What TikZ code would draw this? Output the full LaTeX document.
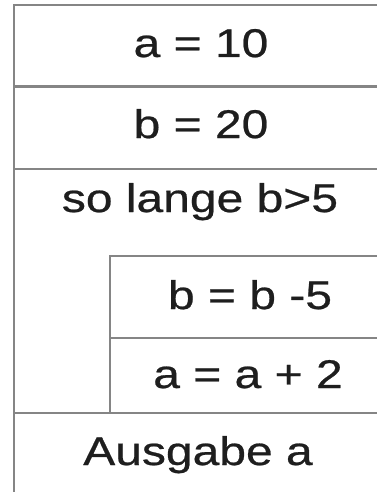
\documentclass[tikz,border=0pt]{standalone}
\usepackage{fontspec}
\newfontfamily\nsfont[FakeStretch=1.2,FakeBold=0.6]{Liberation Sans}
\usepackage{tikz}
\usepackage{xcolor}
\definecolor{Frame}{HTML}{858585}
\definecolor{Ink}{HTML}{1E1E1E}

\begin{document}
\begin{tikzpicture}[x=1pt,y=-1pt,line width=2.2pt,
    cell/.style={anchor=base,inner sep=0pt,text=Ink,
      font=\nsfont\fontsize{40}{48}\selectfont}]
    \useasboundingbox (0,0) rectangle (377,492);
    \clip (0,0) rectangle (377,492);
    % outer blocks
    \draw[Frame] (14,500) -- (14,5) -- (395,5);
    \draw[Frame] (14,86.5) -- (395,86.5);
    \draw[Frame] (14,169) -- (395,169);
    % loop body
    \draw[Frame] (110,413) -- (110,256) -- (395,256);
    \draw[Frame] (110,338) -- (395,338);
    \draw[Frame] (14,413) -- (395,413);
    % statements
    \node[cell] (setA) at (201,57) {a = 10};
    \node[cell] (setB) at (201,138) {b = 20};
    \node[cell] (loop) at (200,212) {so lange b>5};
    \node[cell] (decB) at (250,309) {b = b -5};
    \node[cell] (incA) at (248,388) {a = a + 2};
    \node[cell] (out) at (198,465) {Ausgabe a};
  \end{tikzpicture}
\end{document}
